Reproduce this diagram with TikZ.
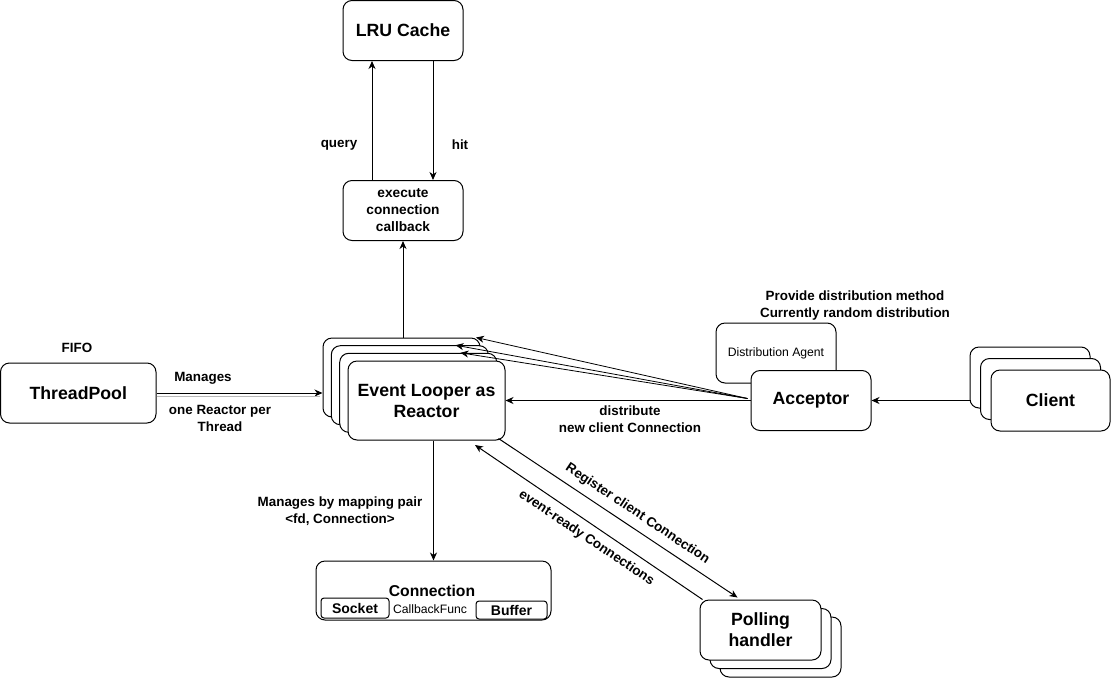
\documentclass[tikz,border=0pt]{standalone}
\usepackage{fontspec}
\setmainfont{Liberation Sans}
\usetikzlibrary{arrows.meta,calc}
\begin{document}
\begin{tikzpicture}[x=1pt,y=-1pt,
  box/.style={draw=black, line width=1pt, fill=white, rounded corners=9pt, inner sep=0pt, align=center},
  sbox/.style={draw=black, line width=1pt, fill=white, rounded corners=3pt, inner sep=0pt, align=center},
  big/.style={font=\fontsize{17.7}{21}\selectfont\bfseries},
  mid/.style={font=\fontsize{13.7}{17}\selectfont\bfseries},
  lbl/.style={font=\fontsize{13.4}{17}\selectfont\bfseries, align=center, inner sep=0pt},
  small/.style={font=\fontsize{12.2}{14}\selectfont},
  arr/.style={line width=1pt, -{Stealth[length=8pt,width=7pt,inset=2.5pt]}},
  tarr/.style={line width=0.8pt, -{Stealth[length=8pt,width=7pt,inset=2.5pt]}},
]
\useasboundingbox (0,0) rectangle (1111,678);

% LRU cache and execute box
\node[box, big, minimum width=120pt, minimum height=60pt] (lru) at (403,30.5) {LRU Cache};
\node[box, mid, minimum width=120pt, minimum height=60pt] (exec) at (403,210.5) {execute\\connection\\callback};

% ThreadPool
\node[box, big, minimum width=155.5pt, minimum height=60pt] (tp) at (78.25,393) {ThreadPool};
\node[lbl] (fifo) at (77,348) {FIFO};

% Reactor stack
\node[box, minimum width=157pt, minimum height=79pt] (b1) at (401.5,377.5) {};
\node[box, minimum width=157pt, minimum height=79pt] (b2) at (409.8,385.2) {};
\node[box, minimum width=157pt, minimum height=79pt] (b3) at (418.2,392.8) {};
\node[box, big, minimum width=157pt, minimum height=79pt] (rea) at (426.5,400.5) {Event Looper as\\Reactor};

% Distribution agent + acceptor
\node[box, small, minimum width=120pt, minimum height=60pt] (da) at (776,353) {Distribution Agent};
\node[box, big, minimum width=120pt, minimum height=60pt] (acc) at (811,400.5) {Acceptor};
\node[lbl] (prov) at (855,306) {Provide distribution method\\Currently random distribution};

% Client stack
\node[box, minimum width=120pt, minimum height=61pt] (c1) at (1030,377.5) {};
\node[box, minimum width=120pt, minimum height=61pt] (c2) at (1040.5,389) {};
\node[box, big, minimum width=119pt, minimum height=61pt] (c3) at (1050.5,400.5) {Client};

% Connection
\node[box, minimum width=235pt, minimum height=59pt] (conn) at (433.5,590.5) {};
\node[font=\fontsize{15.7}{18}\selectfont\bfseries, inner sep=0pt] (conntxt) at (432,591) {Connection};
\node[sbox, font=\fontsize{14}{16}\selectfont\bfseries, minimum width=68pt, minimum height=20pt] (sock) at (355,608) {Socket};
\node[sbox, font=\fontsize{14}{16}\selectfont\bfseries, minimum width=71pt, minimum height=18pt] (buf) at (511.5,610) {Buffer};
\node[font=\fontsize{12.2}{14}\selectfont, inner sep=0pt] (cbf) at (430,609) {CallbackFunc};

% Polling stack
\node[box, minimum width=121pt, minimum height=60pt] (p3) at (780.5,647) {};
\node[box, minimum width=121pt, minimum height=60pt] (p2) at (770.5,638.5) {};
\node[box, big, minimum width=121pt, minimum height=60pt] (p1) at (760.5,630) {Polling\\handler};

% LRU arrows
\draw[arr] ($(exec.north)+(-31,0)$) coordinate (qs) -- (qs |- lru.south);
\draw[arr] ($(lru.south)+(30,0)$) coordinate (hs) -- (hs |- exec.north);
\node[lbl] (query) at (339,145) {query};
\node[lbl] (hit) at (460,145) {hit};

% reactor -> exec
\draw[arr] (exec.south |- b1.north) -- (exec.south);

% threadpool -> reactor
\draw[arr] (tp.east) -- (tp.east -| b1.west);
\draw[gray!55, line width=0.8pt] ($(tp.east)+(0,3.5)$) -- ($(tp.east -| b1.west)+(-3,3.5)$);
\node[lbl] (mng) at (203,378) {Manages};
\node[lbl] (orpt) at (220,418.5) {one Reactor per\\Thread};

% client -> acceptor
\draw[arr] (c1.west |- acc.east) -- (acc.east);

% acceptor -> reactor
\draw[arr] (acc.west) -- (rea.east);
\node[lbl] (dist) at (630,419) {distribute\\new client Connection};

% acceptor -> back boxes
\coordinate (t1) at ($(b1.north east)+(-4.5,0)$);
\coordinate (t2) at ($(b2.north east)+(-33.3,0)$);
\coordinate (t3) at ($(b3.north east)+(-36.7,0)$);
\draw[tarr] ($(acc.west)+(-3,-2)$) -- (t1);
\draw[tarr] ($(acc.west)+(-3,-2)$) -- (t2);
\draw[tarr] ($(acc.west)+(-3,-2)$) -- (t3);

% reactor -> connection
\draw[arr] (rea.south -| conn.north) -- (conn.north);
\node[lbl] (mbp) at (340,511.5) {Manages by mapping pair\\<fd, Connection>};

% reactor <-> polling
\coordinate (rs) at ($(rea.south east)+(-7,-2)$);
\coordinate (re) at ($(p1.north west)+(38,-2)$);
\draw[arr] (rs) -- (re);
\coordinate (es) at ($(p1.north west)+(3,0)$);
\coordinate (ee) at (475,445);
\draw[arr] (es) -- (ee);
\node[lbl, rotate=-33.7] (reg) at (637.5,514) {Register client Connection};
\node[lbl, rotate=-34] (evr) at (586.5,538) {event-ready Connections};

\end{tikzpicture}
\end{document}
